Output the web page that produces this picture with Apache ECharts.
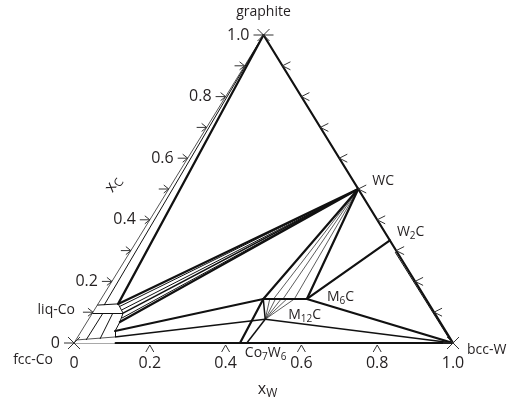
<!DOCTYPE html>
<html><head><meta charset="utf-8">
<script src="https://cdn.jsdelivr.net/npm/echarts@6/dist/echarts.min.js"></script>
<style>html,body{margin:0;padding:0;background:#fff}#c{width:508px;height:404px}</style>
</head><body><div id="c"></div>
<script>
// ---- data: compositions are [x_W, x_C] ----
const thickLines = [
  [[0,1],[0.053,0.127]],
  [[0.5,0.5],[0.053,0.127]],
  [[0.5,0.5],[0.087,0.068]],
  [[0.089,0.039],[0.428,0.143]],
  [[0.5,0.5],[0.428,0.143]],
  [[0.5,0.5],[0.543,0.143]],
  [[0.428,0.143],[0.543,0.143]],
  [[0.543,0.143],[0.667,0.333]],
  [[0.543,0.143],[1,0]],
  [[0.428,0.143],[0.438,0]],
  [[0.11,0],[1,0]],
  [[0,1],[1,0]]
];
const mediumLines = [
  [[0.5,0.5],[0.081,0.097]],
  [[0.098,0.0195],[0.466,0.077]],
  [[0.428,0.143],[0.466,0.077]],
  [[0.466,0.077],[1,0]],
  [[0.466,0.077],[0.456,0]]
];
const thinLines = [
  [[0,1],[0.018,0.123]],
  [[0,0.123],[0.053,0.127]],
  [[0.053,0.127],[0.081,0.097]],
  [[0,0.097],[0.081,0.097]],
  [[0.081,0.097],[0.087,0.068]],
  [[0.087,0.068],[0.089,0.039]],
  [[0.089,0.039],[0.098,0.0195]],
  [[0.028,0.097],[0.027,0.0097]],
  [[0.054,0.097],[0.062,0.013]],
  [[0.5,0.5],[0.061,0.1185]],
  [[0.5,0.5],[0.072,0.107]],
  [[0.5,0.5],[0.086,0.081]],
  [[0.700,0.295],[0.997,0]]
];
const fanLines = [
  [[0.5,0.5],[0.455,0.143]],
  [[0.5,0.5],[0.48,0.143]],
  [[0.5,0.5],[0.51,0.143]],
  [[0.466,0.077],[0.445,0.143]],
  [[0.466,0.077],[0.46,0.143]],
  [[0.466,0.077],[0.475,0.143]],
  [[0.466,0.077],[0.49,0.143]],
  [[0.466,0.077],[0.51,0.143]]
];
const greyLines = [
  [[0,0],[0,1]],
  [[0,0],[0.11,0]],
  [[0.003,0.01],[0.098,0.0195]]
];
const leftTicks = [0.1,0.2,0.3,0.4,0.5,0.6,0.7,0.8,0.9];
const leftLabels = ['0','0.2','0.4','0.6','0.8','1.0'];
const leftLabelValues = [0,0.2,0.4,0.6,0.8,1.0];
const rightTicks = [0.1,0.2,0.3,0.4,0.5,0.6,0.7,0.8,0.9];
const bottomTicks = [0.2,0.4,0.6,0.8];
const bottomLabels = ['0','0.2','0.4','0.6','0.8','1.0'];
const bottomLabelValues = [0,0.2,0.4,0.6,0.8,1.0];
const vertexPoints = [[0,0],[1,0],[0,1]];
const phaseLabelText = ['graphite','WC','W{2}C','M{6}C','M{12}C','Co{7}W{6}','bcc-W','fcc-Co','liq-Co'];
const phaseLabelAt = [[0,1],[0.5,0.5],[0.667,0.333],[0.543,0.143],[0.466,0.077],[0.456,0],[1,0],[0,0],[0,0.1]];

// ---- styles / offsets ----
const labelOffsets = [[0,-23,'center'],[14,-8,'left'],[7,-8,'left'],[20,-2,'left'],[23,-4,'left'],[-2,10,'left'],[14,7,'left'],[-21,17,'right'],[-18,-2,'right']];
const FONT = '"Open Sans", sans-serif';
const TXT = '#231f20';

function toXY(p){ return [p[0] + p[1]/2, p[1]]; }
const ctx = document.createElement('canvas').getContext('2d');
function tw(t, size){ ctx.font = size + 'px ' + FONT; return ctx.measureText(t).width; }

function richText(str, x, y, size, align){
  const parts = [];
  str.split(/(\{[^}]*\})/).forEach(s => { if(!s) return; if(s[0]==='{') parts.push([s.slice(1,-1), true]); else parts.push([s,false]); });
  const sub = Math.round(size*0.72);
  let total = 0; parts.forEach(p => total += tw(p[0], p[1]?sub:size));
  let cx = align==='center' ? x - total/2 : (align==='right' ? x - total : x);
  const ch = [];
  parts.forEach(p => {
    const s = p[1]?sub:size;
    ch.push({type:'text', x:cx, y: y + (p[1]? size*0.3 : 0), style:{text:p[0], font: s+'px '+FONT, fill:TXT, align:'left', verticalAlign:'middle'}});
    cx += tw(p[0], s);
  });
  return ch;
}

function seg(list){ return list.map(l => ({coords:[toXY(l[0]), toXY(l[1])]})); }

const chart = echarts.init(document.getElementById('c'), null, {renderer:'canvas'});
const lc = '#111';
chart.setOption({
  animation:false,
  grid:{left:74,right:55,top:35,bottom:61},
  xAxis:{type:'value',min:0,max:1,show:false},
  yAxis:{type:'value',min:0,max:1,show:false},
  series:[
    {type:'lines',coordinateSystem:'cartesian2d',silent:true,data:seg(greyLines),lineStyle:{color:'#555',width:1,opacity:1}},
    {type:'lines',coordinateSystem:'cartesian2d',silent:true,data:seg(fanLines),lineStyle:{color:'#333',width:0.8,opacity:1}},
    {type:'lines',coordinateSystem:'cartesian2d',silent:true,data:seg(thinLines),lineStyle:{color:lc,width:1,opacity:1}},
    {type:'lines',coordinateSystem:'cartesian2d',silent:true,data:seg(mediumLines),lineStyle:{color:lc,width:1.5,opacity:1}},
    {type:'lines',coordinateSystem:'cartesian2d',silent:true,data:seg(thickLines),lineStyle:{color:lc,width:2.2,opacity:1,cap:'round'}},
    // left ticks
    {type:'custom',coordinateSystem:'cartesian2d',silent:true,clip:false,
     data:leftTicks.map(v => toXY([0,v])),
     renderItem:(params, api) => { const p = api.coord([api.value(0), api.value(1)]);
       return {type:'group',children:[
         {type:'line',shape:{x1:p[0]-10,y1:p[1],x2:p[0],y2:p[1]},style:{stroke:'#333',lineWidth:1}},
         {type:'polyline',shape:{points:[[p[0]-5,p[1]-4],[p[0],p[1]],[p[0]-5,p[1]+4]]},style:{stroke:'#333',fill:null,lineWidth:1}}]}; }},
    // right ticks
    {type:'custom',coordinateSystem:'cartesian2d',silent:true,clip:false,
     data:rightTicks.map(v => toXY([1-v,v])),
     renderItem:(params, api) => { const p = api.coord([api.value(0), api.value(1)]);
       return {type:'polyline',shape:{points:[[p[0]+8,p[1]-4],[p[0],p[1]],[p[0]+8,p[1]+4]]},style:{stroke:'#333',fill:null,lineWidth:1}}; }},
    // bottom ticks
    {type:'custom',coordinateSystem:'cartesian2d',silent:true,clip:false,
     data:bottomTicks.map(v => toXY([v,0])),
     renderItem:(params, api) => { const p = api.coord([api.value(0), api.value(1)]);
       return {type:'polyline',shape:{points:[[p[0]-4,p[1]+9],[p[0],p[1]+2],[p[0]+4,p[1]+9]]},style:{stroke:'#333',fill:null,lineWidth:1}}; }},
    // vertex marks
    {type:'custom',coordinateSystem:'cartesian2d',silent:true,clip:false,
     data:vertexPoints.map(toXY),
     renderItem:(params, api) => { const p = api.coord([api.value(0), api.value(1)]); const d=6;
       return {type:'group',children:[
         {type:'line',shape:{x1:p[0]-d,y1:p[1]-d,x2:p[0]+d,y2:p[1]+d},style:{stroke:'#333',lineWidth:1}},
         {type:'line',shape:{x1:p[0]-d,y1:p[1]+d,x2:p[0]+d,y2:p[1]-d},style:{stroke:'#333',lineWidth:1}},
         {type:'line',shape:{x1:p[0]-10,y1:p[1],x2:p[0]+(params.dataIndex===2?10:0),y2:p[1]},style:{stroke:'#333',lineWidth:1}}]}; }},
    // left labels
    {type:'custom',coordinateSystem:'cartesian2d',silent:true,clip:false,
     data:leftLabelValues.map((v,i) => toXY([0,v]).concat([i])),
     renderItem:(params, api) => { const p = api.coord([api.value(0), api.value(1)]);
       return {type:'text',x:p[0]-14,y:p[1],style:{text:leftLabels[api.value(2)],font:'16px '+FONT,fill:TXT,align:'right',verticalAlign:'middle'}}; }},
    // bottom labels
    {type:'custom',coordinateSystem:'cartesian2d',silent:true,clip:false,
     data:bottomLabelValues.map((v,i) => toXY([v,0]).concat([i])),
     renderItem:(params, api) => { const p = api.coord([api.value(0), api.value(1)]);
       return {type:'text',x:p[0],y:p[1]+20,style:{text:bottomLabels[api.value(2)],font:'16px '+FONT,fill:TXT,align:'center',verticalAlign:'middle'}}; }},
    // phase labels
    {type:'custom',coordinateSystem:'cartesian2d',silent:true,clip:false,
     data:phaseLabelAt.map((v,i) => toXY(v).concat([i])),
     renderItem:(params, api) => { const i = api.value(2); const p = api.coord([api.value(0), api.value(1)]); const o = labelOffsets[i];
       return {type:'group',children:richText(phaseLabelText[i], p[0]+o[0], p[1]+o[1], 14, o[2])}; }},
    // axis titles
    {type:'custom',coordinateSystem:'cartesian2d',silent:true,clip:false,
     data:[toXY([0.5,0]).concat([0]), toXY([0,0.5]).concat([1])],
     renderItem:(params, api) => { const p = api.coord([api.value(0), api.value(1)]);
       if (api.value(2)===0) return {type:'group',children:richText('x{W}', p[0]+4, p[1]+46, 16, 'center')};
       return {type:'group',x:p[0]-56,y:p[1]-5,rotation:Math.PI*58/180,children:richText('x{C}', 0, 0, 16, 'center')}; }}
  ]
});
</script></body></html>
